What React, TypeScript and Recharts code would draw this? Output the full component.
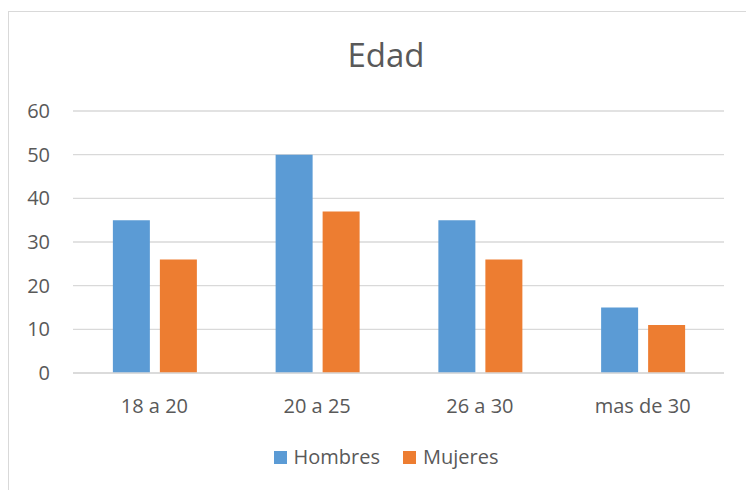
import React from 'react'
import { BarChart, Bar, XAxis, YAxis, CartesianGrid } from 'recharts'

const CATEGORIES = ['18 a 20', '20 a 25', '26 a 30', 'mas de 30']
const HOMBRES = [35, 50, 35, 15]
const MUJERES = [26, 37, 26, 11]
const Y_TICKS = [0, 10, 20, 30, 40, 50, 60]

const SERIES = [
  { key: 'Hombres', color: '#5b9bd5' },
  { key: 'Mujeres', color: '#ed7d31' },
]

const TEXT = '#595959'
const GRID = '#d9d9d9'
const FONT = '"Open Sans", sans-serif'

const data = CATEGORIES.map((name, i) => ({ name, Hombres: HOMBRES[i], Mujeres: MUJERES[i] }))

function ChartLegend() {
  return (
    <div
      style={{
        position: 'absolute',
        left: 0,
        top: 447,
        width: 772,
        display: 'flex',
        justifyContent: 'center',
        alignItems: 'center',
      }}
    >
      {SERIES.map((s, i) => (
        <div key={s.key} style={{ display: 'flex', alignItems: 'center', marginLeft: i ? 23 : 0 }}>
          <span style={{ width: 13, height: 13, background: s.color, marginRight: 7, display: 'inline-block' }} />
          <span style={{ fontSize: 20, lineHeight: '20px', color: TEXT }}>{s.key}</span>
        </div>
      ))}
    </div>
  )
}

export default function App() {
  return (
    <div
      style={{
        position: 'absolute',
        left: 0,
        top: 0,
        width: 746,
        height: 490,
        overflow: 'hidden',
        background: '#fff',
        fontFamily: FONT,
      }}
    >
      {/* chart frame, cropped on the right and bottom */}
      <div
        style={{
          position: 'absolute',
          left: 8,
          top: 11,
          width: 800,
          height: 600,
          border: `1.5px solid ${GRID}`,
        }}
      />
      <div
        style={{
          position: 'absolute',
          left: 0,
          top: 38,
          width: 772,
          textAlign: 'center',
          fontSize: 33,
          lineHeight: '33px',
          color: TEXT,
        }}
      >
        Edad
      </div>
      <div style={{ position: 'absolute', left: 0, top: 0 }}>
        <BarChart
          width={746}
          height={490}
          data={data}
          margin={{ top: 111, right: 22, bottom: 87, left: 23 }}
          barCategoryGap="24.5%"
          barGap={10}
        >
          <CartesianGrid vertical={false} stroke={GRID} strokeWidth={1.3} />
          <XAxis
            dataKey="name"
            height={30}
            axisLine={{ stroke: GRID, strokeWidth: 1.3 }}
            tickLine={false}
            tickSize={0}
            tickMargin={26}
            tick={{ fill: TEXT, fontSize: 20, fontFamily: FONT }}
          />
          <YAxis
            width={50}
            domain={[0, 60]}
            ticks={Y_TICKS}
            axisLine={false}
            tickLine={false}
            tickSize={0}
            tickMargin={23}
            tick={{ fill: TEXT, fontSize: 20, fontFamily: FONT }}
          />
          {SERIES.map((s) => (
            <Bar key={s.key} dataKey={s.key} fill={s.color} isAnimationActive={false} />
          ))}
        </BarChart>
      </div>
      <ChartLegend />
    </div>
  )
}
